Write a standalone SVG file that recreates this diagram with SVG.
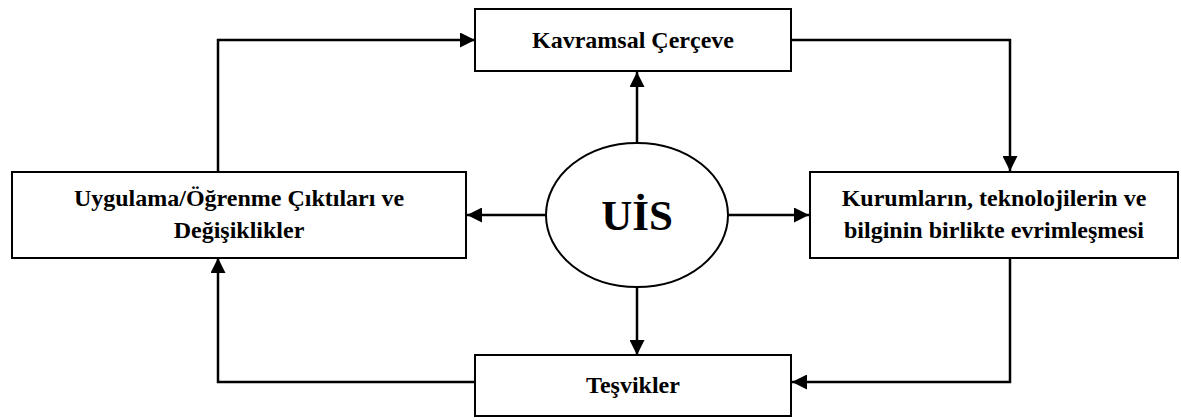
<svg xmlns="http://www.w3.org/2000/svg" width="1181" height="420" viewBox="0 0 1181 420">
  <style>
    .box { fill: #ffffff; stroke: #000000; stroke-width: 2; }
    .lbl { font-family: 'Liberation Serif', 'Times New Roman', serif; font-weight: bold; font-size: 24px; fill: #000000; text-anchor: middle; }
    .big { font-size: 43px; }
    .conn { fill: none; stroke: #000000; stroke-width: 2.5; }
  </style>
  <defs>
    <marker id="arrow" viewBox="0 0 10 10" refX="10" refY="5" markerWidth="6" markerHeight="6" markerUnits="strokeWidth" orient="auto">
      <path d="M0,0 L10,5 L0,10 Z" fill="#000000"/>
    </marker>
  </defs>
  <rect width="1181" height="420" fill="#ffffff"/>

  <g id="connectors">
    <!-- loop around the outer boxes -->
    <polyline class="conn" points="218,171 218,40 475,40" marker-end="url(#arrow)"/>
    <polyline class="conn" points="791,40 1010,40 1010,171" marker-end="url(#arrow)"/>
    <polyline class="conn" points="1010,257 1010,382 792,382" marker-end="url(#arrow)"/>
    <polyline class="conn" points="475,382 218,382 218,258" marker-end="url(#arrow)"/>
    <!-- spokes from the centre -->
    <line class="conn" x1="637" y1="143" x2="637" y2="72" marker-end="url(#arrow)"/>
    <line class="conn" x1="637" y1="288" x2="637" y2="355" marker-end="url(#arrow)"/>
    <line class="conn" x1="546" y1="215" x2="467" y2="215" marker-end="url(#arrow)"/>
    <line class="conn" x1="728" y1="215" x2="809" y2="215" marker-end="url(#arrow)"/>
  </g>

  <g id="node-kavramsal">
    <rect class="box" x="475" y="9" width="316" height="62"/>
    <text class="lbl" x="633" y="48">Kavramsal Çerçeve</text>
  </g>

  <g id="node-uygulama">
    <rect class="box" x="12" y="172" width="454" height="86"/>
    <text class="lbl" x="239" y="206">Uygulama/Öğrenme Çıktıları ve</text>
    <text class="lbl" x="239" y="238">Değişiklikler</text>
  </g>

  <g id="node-uis">
    <ellipse class="box" cx="637" cy="215" rx="91" ry="72"/>
    <text class="lbl big" x="637" y="230">UİS</text>
  </g>

  <g id="node-kurumlar">
    <rect class="box" x="810" y="172" width="368" height="86"/>
    <text class="lbl" x="994" y="206">Kurumların, teknolojilerin ve</text>
    <text class="lbl" x="994" y="238">bilginin birlikte evrimleşmesi</text>
  </g>

  <g id="node-tesvikler">
    <rect class="box" x="475" y="355" width="316" height="61"/>
    <text class="lbl" x="633" y="393">Teşvikler</text>
  </g>
</svg>
